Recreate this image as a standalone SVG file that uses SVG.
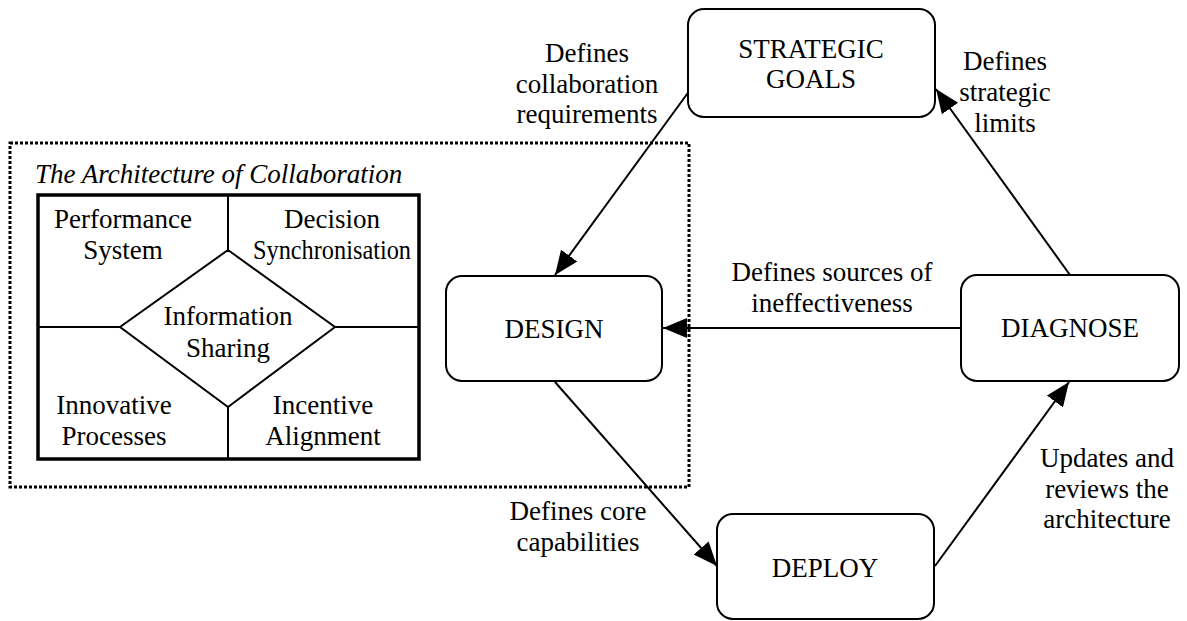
<svg xmlns="http://www.w3.org/2000/svg" width="1187" height="621" viewBox="0 0 1187 621" font-family="Liberation Serif, DejaVu Serif, serif">
<style>
text{font-family:'Liberation Serif','DejaVu Serif',serif;font-size:27px;fill:#000;text-anchor:middle}
.title{font-style:italic;text-anchor:start}
.box{fill:#fff;stroke:#000;stroke-width:2}
.conn{stroke:#000;stroke-width:2;fill:none;marker-end:url(#arr)}
.grid{fill:none;stroke:#000;stroke-width:2}
</style>
<defs>
<marker id="arr" markerUnits="userSpaceOnUse" markerWidth="26" markerHeight="22" refX="24" refY="10" orient="auto">
<path d="M0,0 L24,10 L0,20 z" fill="#000"/>
</marker>
</defs>
<rect width="1187" height="621" fill="#fff"/>

<g id="architecture">
<rect x="10" y="143" width="679" height="344" fill="none" stroke="#000" stroke-width="3" stroke-dasharray="3,2"/>
<text class="title" x="35" y="183">The Architecture of Collaboration</text>
<rect x="38" y="195" width="381" height="264" fill="none" stroke="#000" stroke-width="3.5"/>
<path class="grid" d="M228,195 V250 M228,407 V459 M38,327 H120 M335,327 H419"/>
<polygon class="grid" points="228,250 335,327 228,407 120,327"/>
<text x="123" y="228">Performance</text>
<text x="123" y="259">System</text>
<text x="332" y="228">Decision</text>
<text x="332" y="259" textLength="158" lengthAdjust="spacingAndGlyphs">Synchronisation</text>
<text x="228" y="325">Information</text>
<text x="228" y="357">Sharing</text>
<text x="114" y="414">Innovative</text>
<text x="114" y="445">Processes</text>
<text x="323" y="414">Incentive</text>
<text x="323" y="445">Alignment</text>
</g>

<g id="connectors">
<line class="conn" x1="690" y1="90" x2="555" y2="275"/>
<line class="conn" x1="961" y1="328" x2="663" y2="328"/>
<line class="conn" x1="555" y1="382" x2="717" y2="566"/>
<line class="conn" x1="935" y1="566" x2="1069" y2="382"/>
<line class="conn" x1="1070" y1="275" x2="936" y2="89"/>
<text x="587" y="62">Defines</text>
<text x="587" y="93">collaboration</text>
<text x="587" y="123">requirements</text>
<text x="1005" y="70">Defines</text>
<text x="1005" y="101">strategic</text>
<text x="1005" y="132">limits</text>
<text x="832" y="281">Defines sources of</text>
<text x="832" y="312">ineffectiveness</text>
<text x="578" y="520">Defines core</text>
<text x="578" y="551">capabilities</text>
<text x="1107" y="467">Updates and</text>
<text x="1107" y="498">reviews the</text>
<text x="1107" y="528">architecture</text>
</g>

<g id="strategic-goals">
<rect class="box" x="688" y="9" width="247" height="108" rx="16"/>
<text x="811" y="58">STRATEGIC</text>
<text x="811" y="88">GOALS</text>
</g>
<g id="design">
<rect class="box" x="446" y="276" width="216" height="105" rx="16"/>
<text x="554" y="338">DESIGN</text>
</g>
<g id="diagnose">
<rect class="box" x="961" y="275" width="218" height="106" rx="16"/>
<text x="1070" y="337">DIAGNOSE</text>
</g>
<g id="deploy">
<rect class="box" x="717" y="514" width="217" height="105" rx="16"/>
<text x="825" y="577">DEPLOY</text>
</g>
</svg>
